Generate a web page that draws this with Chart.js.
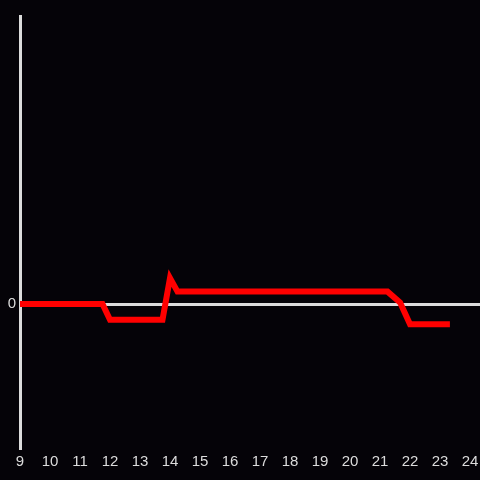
<!DOCTYPE html>
<html lang="en">
<head>
  <meta charset="UTF-8">
  <title>Line chart</title>
  <script src="https://cdn.jsdelivr.net/npm/chart.js"></script>
  <style>
    body {
      margin: 0;
      background: #050308;
    }
    canvas {
      display: block;
    }
  </style>
</head>
<body>
  <canvas id="chartCanvas" width="480" height="480"></canvas>

  <script>
    // hour of day and measured value
    const hours = [9, 11.75, 12, 13.75, 14, 14.25, 21.25, 21.67, 22, 23.33];
    const values = [0, 0, -5.5, -5.5, 9, 4.3, 4.3, 0.5, -7, -7];
    const xTicks = [9, 10, 11, 12, 13, 14, 15, 16, 17, 18, 19, 20, 21, 22, 23, 24];
    const yTicks = [0];

    const points = hours.map((h, i) => ({ x: h, y: values[i] }));

    const bgPlugin = {
      id: "bg",
      beforeDraw(chart) {
        const ctx = chart.ctx;
        ctx.save();
        ctx.fillStyle = "#050308";
        ctx.fillRect(0, 0, chart.width, chart.height);
        ctx.restore();
      }
    };

    new Chart(document.getElementById("chartCanvas"), {
      type: "line",
      data: {
        datasets: [{
          data: points,
          borderColor: "#ff0000",
          borderWidth: 6,
          pointRadius: 0,
          tension: 0,
          fill: false
        }]
      },
      options: {
        responsive: false,
        animation: false,
        layout: { padding: { top: 16, right: 0, left: 0, bottom: 0 } },
        plugins: {
          legend: { display: false },
          tooltip: { enabled: false }
        },
        scales: {
          x: {
            type: "linear",
            min: 9,
            max: 24.333,
            afterBuildTicks: s => { s.ticks = xTicks.map(v => ({ value: v })); },
            afterFit: s => { s.height = 32; },
            // ticks not drawn, length only used to push labels down
            grid: { display: false, drawTicks: true, tickLength: 5 },
            border: { display: false },
            ticks: {
              color: "#dcdcdc",
              font: { family: "Liberation Sans, Arial", size: 15 },
              padding: 0,
              maxRotation: 0,
              autoSkip: false
            }
          },
          y: {
            min: -50,
            max: 100,
            afterBuildTicks: s => { s.ticks = yTicks.map(v => ({ value: v })); },
            afterFit: s => { s.width = 20; },
            grid: { color: "#dcdcdc", lineWidth: 3, drawTicks: false },
            border: { display: true, color: "#dcdcdc", width: 3 },
            ticks: {
              color: "#dcdcdc",
              font: { family: "Liberation Sans, Arial", size: 15 },
              padding: 4
            }
          }
        }
      },
      plugins: [bgPlugin]
    });
  </script>
</body>
</html>
